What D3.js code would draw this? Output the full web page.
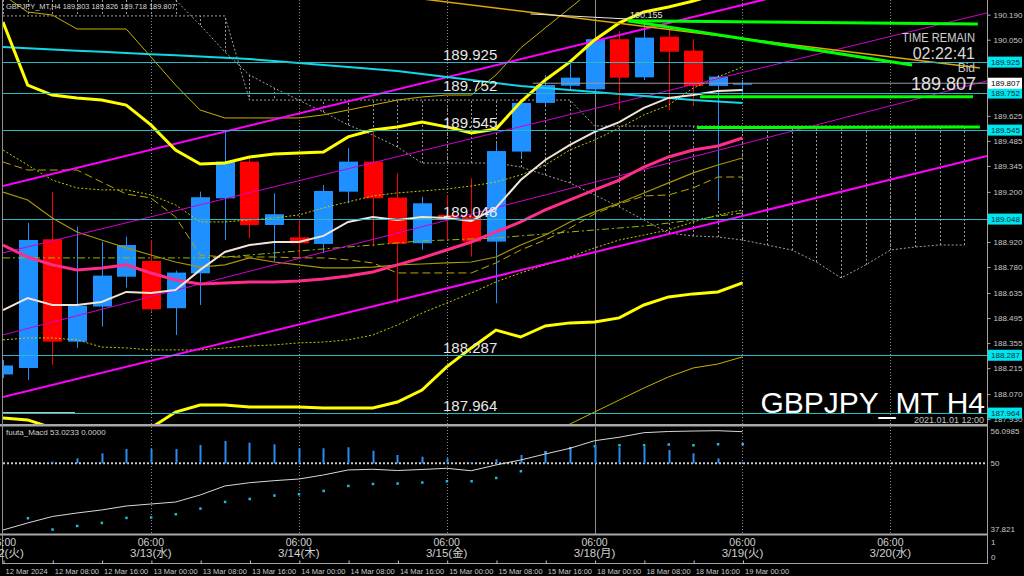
<!DOCTYPE html>
<html><head><meta charset="utf-8">
<script src="https://cdn.jsdelivr.net/npm/d3@7"></script>
<style>
html,body{margin:0;padding:0;background:#000;overflow:hidden}
svg{display:block}
text{font-family:"Liberation Sans",Arial,"Noto Sans CJK JP",sans-serif}
</style></head>
<body><svg id="c" width="1024" height="576"></svg>
<script>
// ---------------- DATA ----------------
const symbolHeader = "GBPJPY_MT,H4  189.803 189.826 189.718 189.807";
const axisTickIdx = [0,2,4,6,8,10,12,14,16,18,20,22,24,26,28,30];
const axisTickLabels = ["12 Mar 2024","12 Mar 08:00","12 Mar 16:00","13 Mar 00:00","13 Mar 08:00","13 Mar 16:00",
  "14 Mar 00:00","14 Mar 08:00","14 Mar 16:00","15 Mar 00:00","15 Mar 08:00","15 Mar 16:00",
  "18 Mar 00:00","18 Mar 08:00","18 Mar 16:00","19 Mar 00:00"];
const dayIdx = [0,6,12,18,24,30,36];
const dayTimes = ["06:00","06:00","06:00","06:00","06:00","06:00","06:00"];
const dayDates = ["3/12(火)","3/13(水)","3/14(木)","3/15(金)","3/18(月)","3/19(火)","3/20(水)"];

const opens  = [188.18,188.216,188.935,188.363,188.559,188.726,188.814,188.550,188.745,189.164,189.369,189.015,188.946,188.909,189.201,189.369,189.168,188.913,189.071,189.062,188.922,189.425,189.697,189.793,189.773,190.053,189.840,190.067,189.989,189.792,189.803];
const highs  = [188.26,189.026,189.198,189.006,188.922,188.950,188.931,188.760,189.201,189.546,189.389,189.192,189.043,189.239,189.444,189.536,189.304,189.173,189.183,189.276,189.473,189.713,189.853,189.920,190.060,190.100,190.155,190.104,190.053,189.853,189.826];
const lows   = [188.16,188.149,188.233,188.328,188.447,188.665,188.529,188.400,188.568,188.931,188.941,188.810,188.831,188.857,189.136,188.894,188.578,188.876,188.931,188.838,188.578,189.395,189.685,189.770,189.750,189.657,189.825,189.658,189.680,189.150,189.718];
const closes = [188.23,188.931,188.363,188.564,188.732,188.903,188.544,188.749,189.170,189.369,189.015,189.075,188.913,189.205,189.369,189.164,188.909,189.136,189.049,188.922,189.428,189.697,189.797,189.838,190.053,189.838,190.062,189.983,189.792,189.844,189.807];

const bandUpper = [190.149,189.797,189.741,189.725,189.713,189.685,189.574,189.434,189.356,189.361,189.395,189.412,189.417,189.423,189.507,189.546,189.563,189.590,189.563,189.529,189.551,189.702,189.825,189.926,190.049,190.144,190.205,190.233,190.266,190.306,190.350];
const bandLower = [187.937,187.926,187.881,187.842,187.825,187.825,187.881,187.970,188.009,188.009,187.998,187.998,187.998,187.993,187.993,187.993,188.026,188.093,188.222,188.328,188.428,188.389,188.451,188.468,188.473,188.496,188.568,188.613,188.630,188.641,188.691];
const bandUpper1 = [190.300,190.205,190.188,190.110,190.110,190.110,189.954,189.797,189.657,189.613,189.613,189.613,189.613,189.630,189.657,189.685,189.713,189.730,189.741,189.741,189.853,190.004,190.116,190.227,190.339,null,null,null,null,null,null];
const bandLower1 = [null,null,null,null,null,null,null,null,null,null,null,null,null,null,null,null,null,null,null,null,null,null,null,187.903,187.970,188.037,188.104,188.166,188.216,188.238,188.278];
const maPink  = [188.903,188.836,188.792,188.764,188.775,188.792,188.747,188.708,188.685,188.691,188.697,188.697,188.702,188.713,188.730,188.752,188.792,188.831,188.875,188.920,188.976,189.032,189.099,189.155,189.211,189.266,189.339,189.395,189.434,189.456,189.501];
const maWhite = [188.540,188.607,188.568,188.568,188.585,188.641,188.635,188.652,188.764,188.864,188.903,188.920,188.920,188.954,189.032,189.060,189.043,189.060,189.054,189.037,189.110,189.266,189.378,189.462,189.535,189.590,189.669,189.725,189.741,189.764,189.769];
const maCyan  = [190.009,190.003,189.996,189.989,189.983,189.976,189.969,189.963,189.956,189.949,189.942,189.931,189.920,189.909,189.898,189.887,189.875,189.859,189.842,189.825,189.808,189.792,189.780,189.769,189.758,189.747,189.736,189.725,189.713,189.705,189.697];
const oliveSolid  = [189.199,189.155,189.054,188.976,188.931,188.887,188.847,188.808,188.780,188.792,188.831,188.808,188.792,188.775,188.775,188.780,188.792,188.797,188.803,188.808,188.836,188.903,188.959,189.032,189.088,189.138,189.194,189.250,189.306,189.350,189.389];
const oliveDashed = [189.367,189.322,189.322,189.322,189.255,189.188,189.166,189.060,188.847,188.836,188.836,188.836,188.831,188.831,188.820,188.803,188.747,188.747,188.747,188.747,188.803,188.875,188.931,188.998,189.077,189.132,189.177,189.183,189.222,189.283,189.283];
const greenDash   = [188.831,188.831,188.831,188.831,188.831,188.831,188.831,188.831,188.831,188.836,188.847,188.859,188.870,188.881,188.892,188.903,188.915,188.926,188.931,188.937,188.942,188.954,188.965,188.976,188.987,188.998,189.009,189.026,189.043,189.065,189.082];
const dotUpper = [189.434,189.350,189.266,189.222,189.211,189.211,189.183,189.127,189.032,189.032,189.043,189.054,189.071,189.110,189.144,189.177,189.194,189.205,189.216,189.233,189.255,189.294,189.350,189.434,189.490,189.557,189.630,189.685,189.780,189.842,189.898];
const dotLower = [188.373,188.384,188.384,188.373,188.333,188.328,188.317,188.317,188.317,188.328,188.339,188.345,188.356,188.361,188.373,188.400,188.456,188.523,188.579,188.635,188.697,188.747,188.792,188.836,188.887,188.931,188.959,188.987,189.032,189.071,189.099];
const cloudA = [190.384,190.384,190.384,190.384,190.384,190.384,190.384,190.272,190.132,189.982,189.853,189.780,189.713,189.646,189.574,189.518,189.451,189.361,189.361,189.361,189.361,189.339,189.294,189.250,189.183,189.116,189.043,188.970,188.954,188.948,188.931,188.903,188.875,188.808,188.719,188.792,188.875,188.892,188.903,188.903];
const cloudB = [190.183,190.183,190.183,190.183,190.183,190.183,190.183,190.183,190.183,190.183,189.713,189.713,189.713,189.713,189.713,189.713,189.713,189.713,189.713,189.713,189.713,189.713,189.713,189.713,189.568,189.568,189.568,189.568,189.568,189.568,189.568,189.568,189.568,189.568,189.568,189.568,189.568,189.568,189.568,189.568];

const levelPrices = [189.925,189.752,189.545,189.048,188.287,187.964];
const bidPrice = 189.807;
const priceTicks = [190.190,190.050,189.625,189.485,189.345,189.200,188.920,188.780,188.635,188.495,188.355,188.215,188.070,187.930];

// drawn objects: [[barIndex, price],[barIndex, price]]
const goldTrend   = [[15,190.312],[39.63,189.892]];
const whiteTrend  = [[21.4,190.194],[25.35,190.166]];
const greenLines  = [
  [[25.35,190.156],[39.55,190.138]],
  [[25.35,190.156],[36.88,189.909]],
  [[28.28,189.732],[39.35,189.732]],
  [[28.15,189.559],[39.63,189.562]]];
const magentaThick = [[[0,189.233],[39.92,190.579]],[[0,188.054],[39.92,189.400]]];
const magentaThin  = [[[0,188.859],[39.92,190.200]],[[0,188.401],[39.92,189.820]]];
const bidLine = [[21.5,189.807],[39.92,189.807]];
const whiteShort = [[0,187.965],[2.92,187.965]];

const macdHist   = [null,null,50.30,50.93,51.86,52.66,52.66,52.66,53.40,54.15,53.83,53.53,52.79,52.79,52.98,52.34,51.54,51.23,50.93,50.24,50.74,51.54,52.16,52.79,53.40,52.98,53.09,52.47,51.86,50.93,50.24];
const macdMain   = [37.60,38.90,40.11,40.76,41.32,42.06,42.43,42.80,44.11,45.78,46.39,46.77,47.08,47.83,48.76,48.89,48.66,48.85,49.07,48.62,49.69,50.61,51.73,52.79,54.20,54.84,55.69,55.91,56.00,56.06,55.88];
const macdSignal = [null,39.83,37.73,38.40,38.96,39.89,39.96,40.57,41.63,42.86,43.42,44.05,44.29,44.91,45.84,46.21,46.28,46.47,46.71,46.71,47.32,48.57,52.10,52.85,53.22,53.40,53.40,53.53,53.40,53.59,53.59];
const macdLabel = "fuuta_Macd 53.0233  0.0000";

// ---------------- DRAW ----------------
const svg = d3.select("#c");
svg.append("rect").attr("width",1024).attr("height",576).attr("fill","#000");
const x = d3.scaleLinear().domain([0,39.92]).range([3,987]);
const y = d3.scaleLinear().domain([187.903,190.272]).range([424,0]);
const my = d3.scaleLinear().domain([37.821,56.0985]).range([528.8,430.5]);

const defs = svg.append("defs");
defs.append("clipPath").attr("id","mainClip").append("rect").attr("x",3).attr("y",0).attr("width",984).attr("height",424);
defs.append("clipPath").attr("id","macdClip").append("rect").attr("x",3).attr("y",427).attr("width",984).attr("height",107);
defs.append("clipPath").attr("id","boxClip").append("rect").attr("x",0).attr("y",535).attr("width",987).attr("height",28);

// vertical grid
const gridG = svg.append("g");
[6,12,18,30,36].forEach(i=>{
  [[0,424],[427,534]].forEach(r=>gridG.append("line").attr("x1",Math.round(x(i))+0.5).attr("x2",Math.round(x(i))+0.5)
    .attr("y1",r[0]).attr("y2",r[1]).attr("stroke","#8a8a8a").attr("stroke-dasharray","1,2"));
});
[[0,424],[427,534]].forEach(r=>gridG.append("line").attr("x1",Math.round(x(24))+0.5).attr("x2",Math.round(x(24))+0.5)
  .attr("y1",r[0]).attr("y2",r[1]).attr("stroke","#8c8c8c"));

const main = svg.append("g").attr("clip-path","url(#mainClip)");
const lineGen = sc => d3.line().defined(d=>d!=null).x((d,i)=>x(i)).y(d=>sc(d));
const segGen = d3.line().x(d=>x(d[0])).y(d=>y(d[1]));
function series(arr,color,w,dash){
  const p = main.append("path").datum(arr).attr("d",lineGen(y)).attr("fill","none").attr("stroke",color).attr("stroke-width",w);
  if(dash) p.attr("stroke-dasharray",dash);
  return p;
}
function seg(pts,color,w,dash){
  const p = main.append("path").datum(pts).attr("d",segGen).attr("fill","none").attr("stroke",color).attr("stroke-width",w);
  if(dash) p.attr("stroke-dasharray",dash);
}

// cloud (dotted + hatch)
cloudA.forEach((a,i)=>{
  main.append("line").attr("x1",Math.round(x(i))+0.5).attr("x2",Math.round(x(i))+0.5)
    .attr("y1",y(a)).attr("y2",y(cloudB[i])).attr("stroke","#9a9a9a").attr("stroke-dasharray","2,2");
});
series(cloudA,"#a0a0a0",1,"2,2");
series(cloudB,"#a0a0a0",1,"2,2");

// candles
const cg = main.append("g");
opens.forEach((o,i)=>{
  const c = closes[i], up = c>=o, col = up?"#1e90ff":"#ff0000";
  const cx = Math.round(x(i))+0.5;
  cg.append("line").attr("x1",cx).attr("x2",cx).attr("y1",y(highs[i])).attr("y2",y(lows[i])).attr("stroke",col);
  const top = y(Math.max(o,c)), bot = y(Math.min(o,c));
  cg.append("rect").attr("x",cx-9.5).attr("width",19).attr("y",top).attr("height",Math.max(1.5,bot-top)).attr("fill",col);
});

// indicator lines
series(dotUpper,"#c8c800",1,"2,2");
series(dotLower,"#c8c800",1,"2,2");
series(greenDash,"#8fbf00",1,"7,3,2,3");
series(oliveDashed,"#b8a800",1,"8,4");
series(oliveSolid,"#a89800",1.2);
series(bandUpper1,"#c8b000",1);
series(bandLower1,"#c8b000",1);
magentaThin.forEach(s=>seg(s,"#d000d0",1));
magentaThick.forEach(s=>seg(s,"#ff00ff",2));
series(maCyan,"#10d8e8",2);
series(maPink,"#ff2d8a",3);
series(maWhite,"#f2e4d8",2);
series(bandUpper,"#ffff00",3);
series(bandLower,"#ffff00",3);
seg(goldTrend,"#e0a800",1.5);
seg(whiteTrend,"#e8e8e8",1);
seg(bidLine,"#9a9a9a",1);
seg(whiteShort,"#ffffff",1.5);

// horizontal levels
levelPrices.forEach(p=>{
  main.append("line").attr("x1",3).attr("x2",987).attr("y1",Math.round(y(p))+0.5).attr("y2",Math.round(y(p))+0.5)
    .attr("stroke","#2ab8c4").attr("stroke-width",1);
  main.append("text").attr("x",443).attr("y",Math.round(y(p))-2).attr("fill","#e8e8e8").attr("font-size",15).text(p.toFixed(3));
});
greenLines.forEach(s=>seg(s,"#00ff00",3));

// texts in main
main.append("text").attr("x",6).attr("y",9).attr("fill","#d8d8d8").attr("font-size",7.4).text(symbolHeader);
main.append("text").attr("x",x(26)-14).attr("y",y(190.155)-3).attr("fill","#e0e0e0").attr("font-size",9).text("190.155");
main.append("text").attr("x",975).attr("y",42).attr("text-anchor","end").attr("fill","#d0d0d0").attr("font-size",13)
  .attr("textLength",73).attr("lengthAdjust","spacingAndGlyphs").text("TIME REMAIN");
main.append("text").attr("x",975).attr("y",59).attr("text-anchor","end").attr("fill","#d8d8d8").attr("font-size",16).text("02:22:41");
main.append("text").attr("x",975).attr("y",72).attr("text-anchor","end").attr("fill","#c8c8c8").attr("font-size",12).text("Bid");
main.append("text").attr("x",976).attr("y",90).attr("text-anchor","end").attr("fill","#e0e0e0").attr("font-size",18).text(bidPrice.toFixed(3));
main.append("text").attr("x",985).attr("y",413).attr("text-anchor","end").attr("fill","#ffffff").attr("font-size",30).text("GBPJPY_MT H4");
main.append("text").attr("x",984).attr("y",423).attr("text-anchor","end").attr("fill","#c0c0c0").attr("font-size",9).text("2021.01.01 12:00");

// frames / separators
svg.append("rect").attr("x",0).attr("y",424).attr("width",988).attr("height",2.5).attr("fill","#a8a8a8");
svg.append("rect").attr("x",0).attr("y",533.5).attr("width",988).attr("height",2).attr("fill","#a8a8a8");
svg.append("line").attr("x1",2.5).attr("x2",2.5).attr("y1",0).attr("y2",563).attr("stroke","#909090");
svg.append("line").attr("x1",987.5).attr("x2",987.5).attr("y1",0).attr("y2",563.5).attr("stroke","#a0a0a0");
svg.append("line").attr("x1",2).attr("x2",988).attr("y1",563.5).attr("y2",563.5).attr("stroke","#a0a0a0");

// price axis
const pa = svg.append("g").attr("transform","translate(987.5,0)")
  .call(d3.axisRight(y).tickValues(priceTicks).tickSize(3).tickPadding(3).tickFormat(d3.format(".3f")));
pa.select(".domain").remove();
pa.selectAll("line").attr("stroke","#b0b0b0");
pa.selectAll("text").attr("fill","#c8c8c8").attr("font-size",8).attr("font-family","Liberation Sans, Arial");
// level boxes
levelPrices.forEach(p=>{
  svg.append("rect").attr("x",988).attr("y",y(p)-5.5).attr("width",34).attr("height",11).attr("fill","#00e6f0");
  svg.append("text").attr("x",991).attr("y",y(p)+3).attr("fill","#003030").attr("font-size",8).text(p.toFixed(3));
});
svg.append("rect").attr("x",988).attr("y",y(bidPrice)-5.5).attr("width",34).attr("height",11).attr("fill","#ffffff");
svg.append("text").attr("x",991).attr("y",y(bidPrice)+3).attr("fill","#000").attr("font-size",8).text(bidPrice.toFixed(3));

// MACD panel
const mg = svg.append("g").attr("clip-path","url(#macdClip)");
mg.append("line").attr("x1",3).attr("x2",987).attr("y1",my(50)).attr("y2",my(50)).attr("stroke","#c8c8c8").attr("stroke-width",2).attr("stroke-dasharray","2,2");
macdSignal.forEach((v,i)=>{ if(v!=null) mg.append("rect").attr("x",x(i)-1).attr("y",my(v)-1).attr("width",2.5).attr("height",2.5).attr("fill","#25b8d8"); });
macdHist.forEach((v,i)=>{ if(v!=null) mg.append("line").attr("x1",Math.round(x(i))+0.5).attr("x2",Math.round(x(i))+0.5)
  .attr("y1",my(50)).attr("y2",my(v)).attr("stroke","#2a8cf0").attr("stroke-width",2); });
mg.append("path").datum(macdMain).attr("d",lineGen(my)).attr("fill","none").attr("stroke","#d8d8d8").attr("stroke-width",1);
svg.append("text").attr("x",6).attr("y",435).attr("fill","#d0d0d0").attr("font-size",8).text(macdLabel);
const ma = svg.append("g").attr("transform","translate(987.5,0)")
  .call(d3.axisRight(my).tickValues([56.0985,50,37.821]).tickSize(0).tickPadding(3).tickFormat(d=>d===50?"50":String(d)));
ma.select(".domain").remove();
ma.selectAll("text").attr("fill","#c8c8c8").attr("font-size",8);

// bottom small panel labels 1 / 0
svg.append("text").attr("x",991).attr("y",545).attr("fill","#c8c8c8").attr("font-size",8).text("1");
svg.append("text").attr("x",991).attr("y",560).attr("fill","#c8c8c8").attr("font-size",8).text("0");

// day labels in box
const dg = svg.append("g").attr("clip-path","url(#boxClip)");
dayIdx.forEach((d,k)=>{
  dg.append("text").attr("x",x(d)).attr("y",546).attr("text-anchor","middle").attr("fill","#d0d0d0").attr("font-size",10.5).text(dayTimes[k]);
  dg.append("text").attr("x",x(d)).attr("y",557).attr("text-anchor","middle").attr("fill","#d0d0d0").attr("font-size",11.5).text(dayDates[k]);
});

// time axis
const ta = svg.append("g").attr("transform","translate(0,563.5)")
  .call(d3.axisBottom(x).tickValues(axisTickIdx).tickSize(-3).tickFormat((d,i)=>axisTickLabels[i]));
ta.select(".domain").remove();
ta.selectAll("line").attr("stroke","#c0c0c0").attr("transform","translate(0.5,0)");
ta.selectAll("text").attr("text-anchor","start").attr("x",2).attr("y",10).attr("dy",0).attr("fill","#c8c8c8").attr("font-size",7.5);
</script></body></html>
